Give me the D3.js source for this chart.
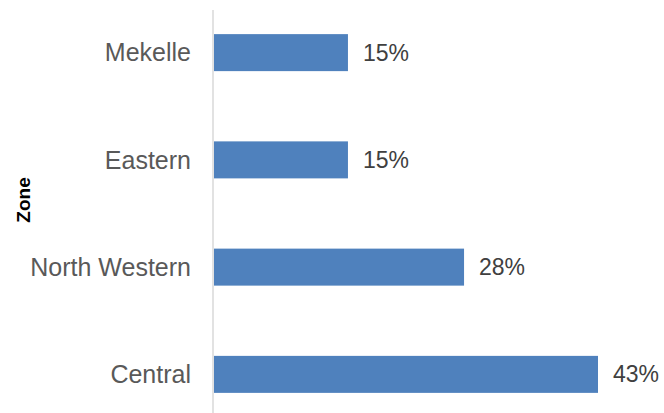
<!DOCTYPE html>
<html>
<head>
<meta charset="utf-8">
<script src="https://cdn.jsdelivr.net/npm/d3@7"></script>
<style>
  html, body { margin: 0; padding: 0; background: #fff; }
  svg { display: block; }
</style>
</head>
<body>
<svg id="chart" width="664" height="413"></svg>
<script>
// Share of respondents by zone
const zones = ["Mekelle", "Eastern", "North Western", "Central"];
const shares = [15, 15, 28, 43];
const labels = ["15%", "15%", "28%", "43%"];

const svg = d3.select("#chart");
const W = 664, H = 413;
const x0 = 213;

const x = d3.scaleLinear().domain([0, 43]).range([x0 + 1, 598]);
const y = d3.scaleBand().domain(zones).range([-1, 428])
  .paddingInner(0.655).paddingOuter(0.3275);

const font = "'Liberation Sans', Arial, sans-serif";

// bars
svg.selectAll("rect.bar").data(zones).join("rect")
  .attr("class", "bar")
  .attr("x", x(0))
  .attr("y", d => y(d))
  .attr("width", (d, i) => x(shares[i]) - x(0))
  .attr("height", y.bandwidth())
  .attr("fill", "#4f81bd");

// vertical category axis line
svg.append("line")
  .attr("x1", x0).attr("x2", x0)
  .attr("y1", 10).attr("y2", H)
  .attr("stroke", "#d9d9d9").attr("stroke-width", 1.5);

// category labels
svg.selectAll("text.cat").data(zones).join("text")
  .attr("class", "cat")
  .attr("x", 191)
  .attr("y", d => y(d) + y.bandwidth() / 2)
  .attr("dy", "0.35em")
  .attr("text-anchor", "end")
  .attr("font-family", font)
  .attr("font-size", 25)
  .attr("fill", "#595959")
  .text(d => d);

// value labels
svg.selectAll("text.val").data(zones).join("text")
  .attr("class", "val")
  .attr("x", (d, i) => x(shares[i]) + 15)
  .attr("y", d => y(d) + y.bandwidth() / 2)
  .attr("dy", "0.35em")
  .attr("font-family", font)
  .attr("font-size", 23)
  .attr("fill", "#404040")
  .text((d, i) => labels[i]);

// axis title
svg.append("text")
  .attr("transform", "translate(30,200) rotate(-90)")
  .attr("text-anchor", "middle")
  .attr("font-family", font)
  .attr("font-size", 19)
  .attr("font-weight", "bold")
  .attr("fill", "#000")
  .text("Zone");
</script>
</body>
</html>
